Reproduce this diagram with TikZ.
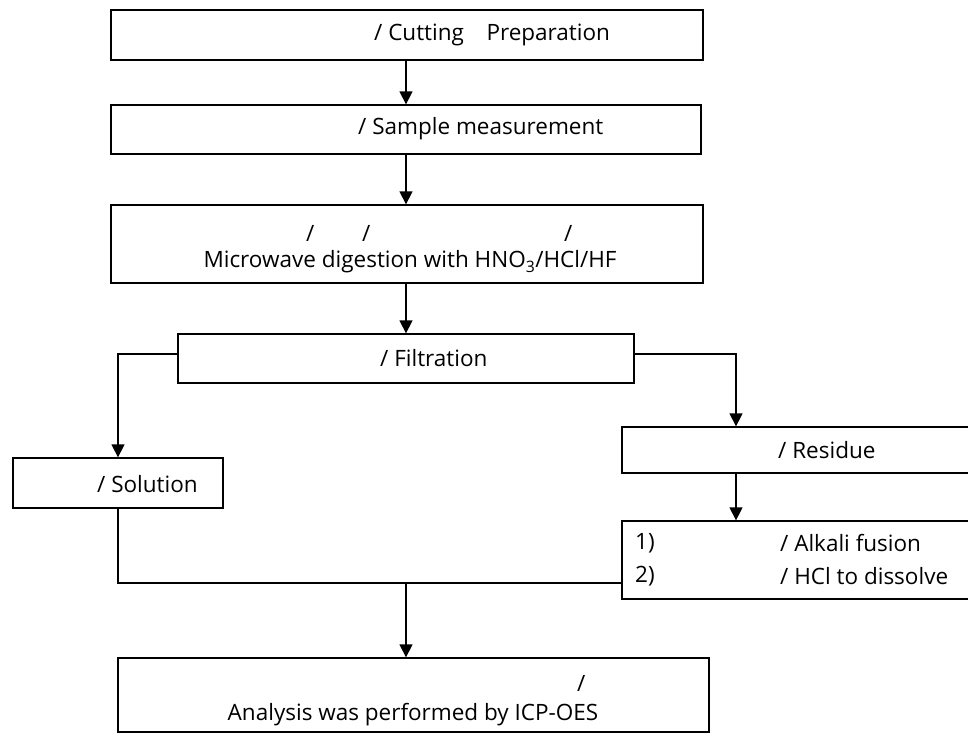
\documentclass[tikz,border=0pt]{standalone}
\usepackage{fontspec}
\setmainfont{Open Sans}
\usetikzlibrary{arrows.meta}

\tikzset{
  box/.style={draw, line width=1.3pt, rectangle, inner sep=0pt},
  lbl/.style={inner sep=0pt, anchor=west, font=\fontsize{22.5}{27}\selectfont},
  flow/.style={line width=1.3pt, -{Triangle[width=13pt,length=13pt]}},
  link/.style={line width=1.3pt}
}

\begin{document}
\begin{tikzpicture}[x=1pt,y=-1pt]
  \useasboundingbox (0,0) rectangle (968,734);
  \clip (0,0) rectangle (968,734);

  % boxes
  \node[box, minimum width=592pt, minimum height=50pt] (prep) at (407,35) {};
  \node[box, minimum width=590pt, minimum height=49pt] (meas) at (406,129.5) {};
  \node[box, minimum width=592pt, minimum height=78pt] (dige) at (407,244) {};
  \node[box, minimum width=456pt, minimum height=49pt] (filt) at (406,358.5) {};
  \node[box, minimum width=210pt, minimum height=50pt] (sol) at (118,483) {};
  \node[box, minimum width=358pt, minimum height=46pt] (res) at (801,450) {};
  \node[box, minimum width=358pt, minimum height=78pt] (alk) at (801,560) {};
  \node[box, minimum width=591pt, minimum height=74pt] (icp) at (413.5,695) {};

  \coordinate (axis) at (406,0);
  \coordinate (drop) at (736,0);
  \coordinate (merge) at (406,583);

  % texts
  \node[lbl] (t1) at (374,35) {/ Cutting\quad Preparation};
  \node[lbl] (t2) at (358,129) {/ Sample measurement};
  \node[lbl] (t3a) at (306,233) {/};
  \node[lbl] (t3b) at (362,233) {/};
  \node[lbl] (t3c) at (564,233) {/};
  \node[lbl, anchor=center] (t3d) at (410,262) {Microwave digestion with HNO\textsubscript{3}/HCl/HF};
  \node[lbl] (t4) at (380,358) {/ Filtration};
  \node[lbl] (t5) at (97,484) {/ Solution};
  \node[lbl] (t6) at (778,450) {/ Residue};
  \node[lbl] (t7a) at (635,543) {1)};
  \node[lbl] (t7b) at (780,543) {/ Alkali fusion};
  \node[lbl] (t7c) at (635,576) {2)};
  \node[lbl] (t7d) at (780,576) {/ HCl to dissolve};
  \node[lbl] (t8a) at (577,683) {/};
  \node[lbl, anchor=center] (t8b) at (413,715) {Analysis was performed by ICP-OES};

  % connectors
  \draw[flow] (prep.south -| axis) -- (meas.north -| axis);
  \draw[flow] (meas.south -| axis) -- (dige.north -| axis);
  \draw[flow] (dige.south -| axis) -- (filt.north -| axis);
  \draw[flow] ([yshift=4.5pt]filt.west) -| (sol.north);
  \draw[flow] ([yshift=4.5pt]filt.east) -| (res.north -| drop);
  \draw[flow] (res.south -| drop) -- (alk.north -| drop);
  \draw[link] (sol.south) |- (alk.west |- merge);
  \draw[flow] (merge) -- (icp.north -| merge);
\end{tikzpicture}
\end{document}
